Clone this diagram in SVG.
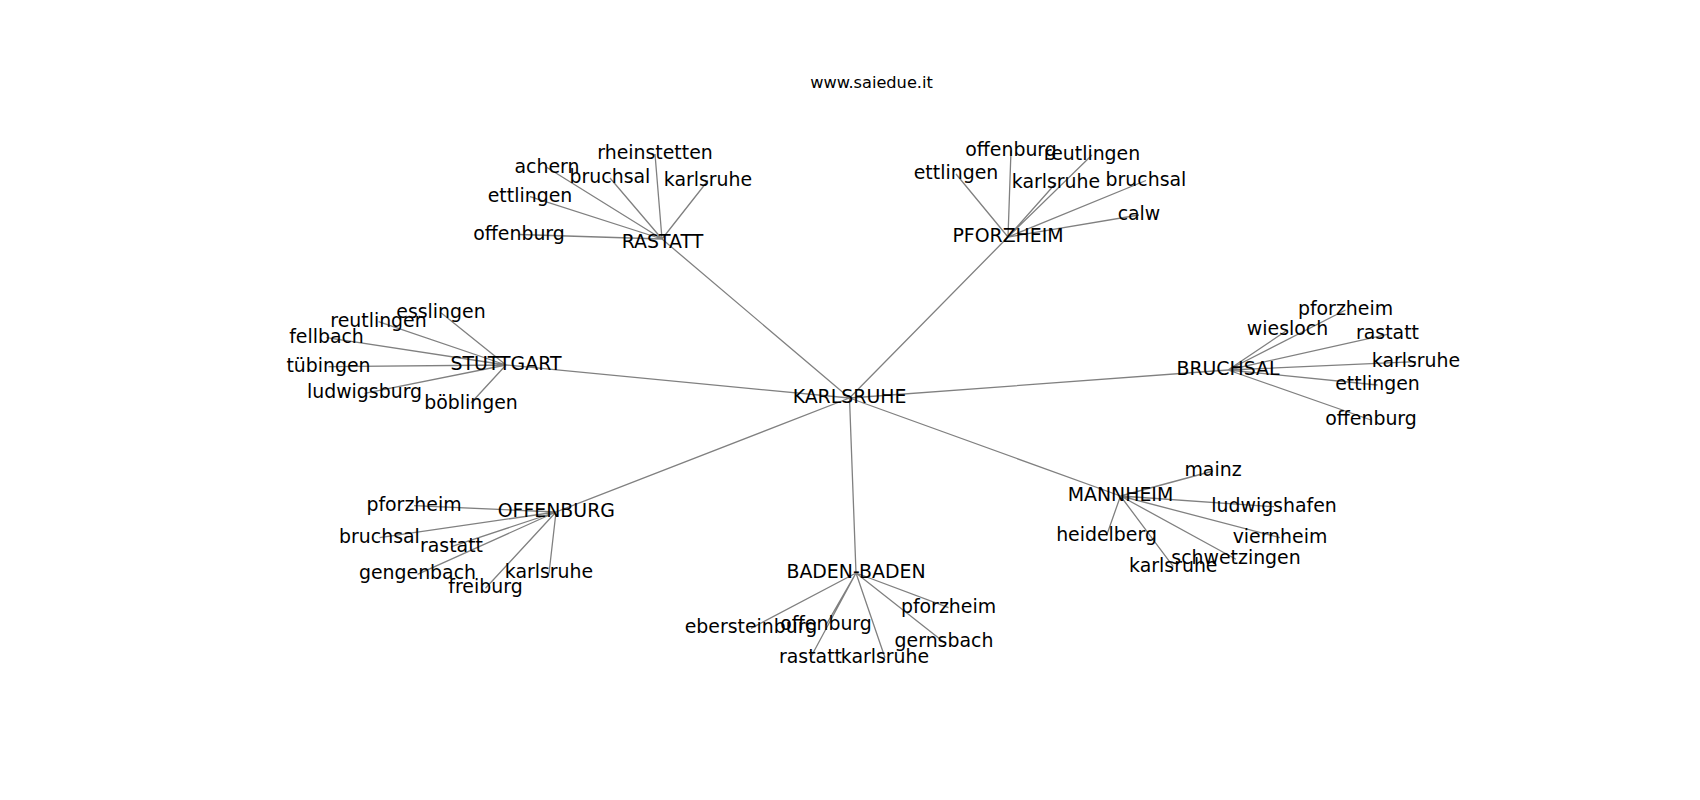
<svg xmlns="http://www.w3.org/2000/svg" width="1700" height="800" viewBox="0 0 1700 800">
<style>
.e{stroke:#808080;stroke-width:1.3;fill:none}
text{font-family:"DejaVu Sans",sans-serif;font-size:18.9px;fill:#000;text-anchor:middle}
.t{font-size:16.2px}
</style>
<rect width="1700" height="800" fill="#fff"/>
<g id="connectors">
<path class="e" d="M849.5,398 L662,239 M849.5,398 L1008,237 M849.5,398 L506,365 M849.5,398 L1228,370 M849.5,398 L556,512 M849.5,398 L856,573 M849.5,398 L1120.5,496"/>
<path class="e" d="M662,239 L547,167.5 M662,239 L655,154 M662,239 L610,178 M662,239 L708,180.5 M662,239 L530,196.6 M662,239 L519,234.5"/>
<path class="e" d="M1008,237 L1011,150.5 M1008,237 L1092,155 M1008,237 L956,174 M1008,237 L1056,183 M1008,237 L1146,180.5 M1008,237 L1139,215"/>
<path class="e" d="M506,365 L441,312.7 M506,365 L378.5,321.7 M506,365 L326.5,337.7 M506,365 L328.5,366.7 M506,365 L364.5,393.3 M506,365 L471,403"/>
<path class="e" d="M1228,370 L1345.5,310 M1228,370 L1287.5,330 M1228,370 L1387.5,334.3 M1228,370 L1416,361.7 M1228,370 L1377.5,385 M1228,370 L1371,420"/>
<path class="e" d="M556,512 L414,505.7 M556,512 L379.5,537.7 M556,512 L451.5,546.7 M556,512 L417.5,574.3 M556,512 L485.5,588.3 M556,512 L549,573.3"/>
<path class="e" d="M856,573 L751,628.3 M856,573 L826,625 M856,573 L948.5,607.7 M856,573 L944,642.3 M856,573 L810.5,657.7 M856,573 L885,657.7"/>
<path class="e" d="M1120.5,496 L1213,471 M1120.5,496 L1274,506.7 M1120.5,496 L1280,537.7 M1120.5,496 L1106.5,535.7 M1120.5,496 L1236,559.3 M1120.5,496 L1173.3,566.7"/>
</g>
<g id="title"><text class="t" x="871.5" y="88">www.saiedue.it</text></g>
<g id="KARLSRUHE"><text x="849.5" y="403.3">KARLSRUHE</text></g>
<g id="RASTATT"><text x="662.5" y="247.5">RASTATT</text></g>
<g id="PFORZHEIM"><text x="1008" y="242">PFORZHEIM</text></g>
<g id="STUTTGART"><text x="506" y="370">STUTTGART</text></g>
<g id="BRUCHSAL"><text x="1228" y="375">BRUCHSAL</text></g>
<g id="OFFENBURG"><text x="556.3" y="517.3">OFFENBURG</text></g>
<g id="BADEN-BADEN"><text x="856" y="578">BADEN-BADEN</text></g>
<g id="MANNHEIM"><text x="1120.5" y="501">MANNHEIM</text></g>
<g id="rastatt-leaves">
<text x="547" y="172.5">achern</text>
<text x="655" y="159">rheinstetten</text>
<text x="610" y="183">bruchsal</text>
<text x="708" y="185.5">karlsruhe</text>
<text x="530" y="201.6">ettlingen</text>
<text x="519" y="239.5">offenburg</text>
</g>
<g id="pforzheim-leaves">
<text x="1011" y="155.5">offenburg</text>
<text x="1092" y="160">reutlingen</text>
<text x="956" y="179">ettlingen</text>
<text x="1056" y="188">karlsruhe</text>
<text x="1146" y="185.5">bruchsal</text>
<text x="1139" y="220">calw</text>
</g>
<g id="stuttgart-leaves">
<text x="441" y="317.7">esslingen</text>
<text x="378.5" y="326.7">reutlingen</text>
<text x="326.5" y="342.7">fellbach</text>
<text x="328.5" y="371.7">tübingen</text>
<text x="364.5" y="398.3">ludwigsburg</text>
<text x="471" y="408.5">böblingen</text>
</g>
<g id="bruchsal-leaves">
<text x="1345.5" y="315">pforzheim</text>
<text x="1287.5" y="335">wiesloch</text>
<text x="1387.5" y="339.3">rastatt</text>
<text x="1416" y="366.7">karlsruhe</text>
<text x="1377.5" y="390">ettlingen</text>
<text x="1371" y="425">offenburg</text>
</g>
<g id="offenburg-leaves">
<text x="414" y="510.7">pforzheim</text>
<text x="379.5" y="542.7">bruchsal</text>
<text x="451.5" y="551.7">rastatt</text>
<text x="417.5" y="579.3">gengenbach</text>
<text x="485.5" y="593.3">freiburg</text>
<text x="549" y="578.3">karlsruhe</text>
</g>
<g id="baden-baden-leaves">
<text x="751" y="633.3">ebersteinburg</text>
<text x="826" y="630">offenburg</text>
<text x="948.5" y="612.7">pforzheim</text>
<text x="944" y="647.3">gernsbach</text>
<text x="810.5" y="662.7">rastatt</text>
<text x="885" y="662.7">karlsruhe</text>
</g>
<g id="mannheim-leaves">
<text x="1213" y="476">mainz</text>
<text x="1274" y="511.7">ludwigshafen</text>
<text x="1280" y="542.7">viernheim</text>
<text x="1106.5" y="540.7">heidelberg</text>
<text x="1236" y="564.3">schwetzingen</text>
<text x="1173.3" y="571.7">karlsruhe</text>
</g>
</svg>
